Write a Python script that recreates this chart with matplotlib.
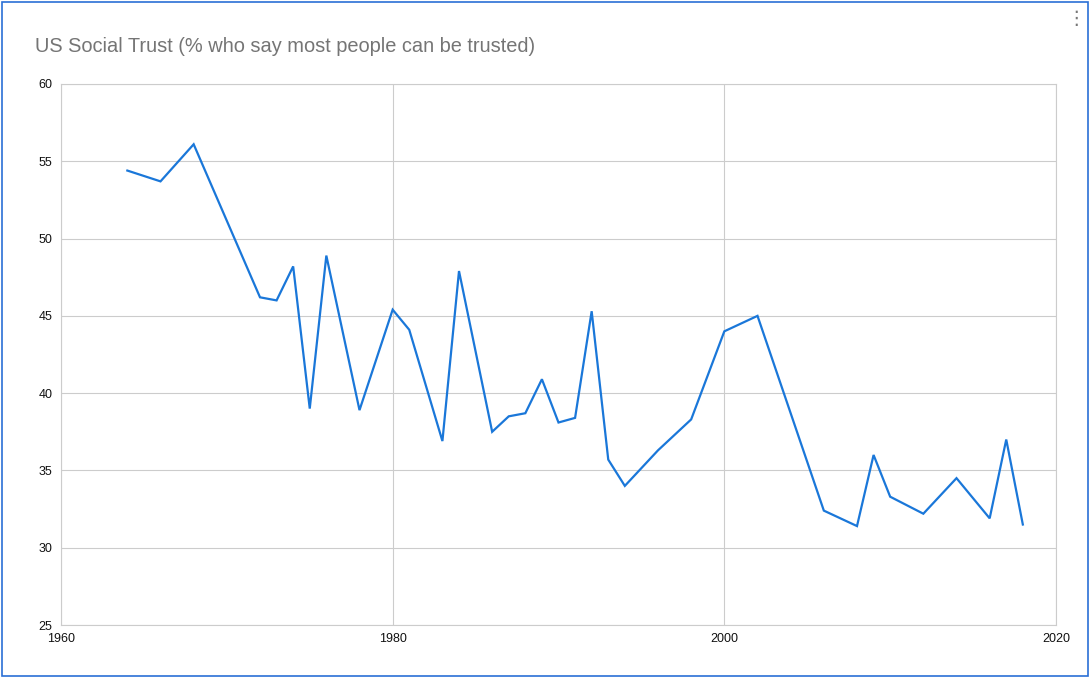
import matplotlib.pyplot as plt
from matplotlib.patches import Rectangle

# US social trust survey values
years = [1964, 1966, 1968, 1972, 1973, 1974, 1975, 1976, 1978, 1980,
         1981, 1983, 1984, 1986, 1987, 1988, 1989, 1990, 1991, 1992,
         1993, 1994, 1996, 1998, 2000, 2002, 2006, 2008, 2009, 2010,
         2012, 2014, 2016, 2017, 2018]
trust = [54.4, 53.7, 56.1, 46.2, 46.0, 48.2, 39.0, 48.9, 38.9, 45.4,
         44.1, 36.9, 47.9, 37.5, 38.5, 38.7, 40.9, 38.1, 38.4, 45.3,
         35.7, 34.0, 36.3, 38.3, 44.0, 45.0, 32.4, 31.4, 36.0, 33.3,
         32.2, 34.5, 31.9, 37.0, 31.5]

x_ticks = [1960, 1980, 2000, 2020]
y_ticks = [25, 30, 35, 40, 45, 50, 55, 60]
title = "US Social Trust (% who say most people can be trusted)"

plt.rcParams['font.family'] = ['Liberation Sans', 'DejaVu Sans']

W, H = 1090, 677
fig = plt.figure(figsize=(W / 100, H / 100), dpi=100)
ax = fig.add_axes([61 / W, 1 - 625 / H, (1056 - 61) / W, (625 - 84) / H])

ax.plot(years, trust, color='#1a77d9', linewidth=1.6, solid_joinstyle='miter')

ax.set_xlim(1960, 2020)
ax.set_ylim(25, 60)
ax.set_xticks(x_ticks)
ax.set_yticks(y_ticks)
ax.grid(True, color='#cccccc', linewidth=0.8)
ax.set_axisbelow(True)
for s in ax.spines.values():
    s.set_color('#cccccc')
    s.set_linewidth(0.8)
ax.tick_params(length=0, labelsize=9, labelcolor='#111111')
ax.tick_params(axis='y', pad=6)
ax.tick_params(axis='x', pad=6)

fig.text(35 / W, 1 - 46 / H, title, fontsize=14.4, color='#757575',
         ha='left', va='center')

# menu dots and selection frame
fig.text(1076 / W, 1 - 18 / H, '\u22ee', fontsize=14, color='#777777',
         ha='center', va='center', family=['DejaVu Sans'])
fig.patches.append(Rectangle((0.002, 0.002), 0.996, 0.995, transform=fig.transFigure,
                             fill=False, edgecolor='#2a6fd6', linewidth=1.2))

fig.savefig('out.png', dpi=100)
